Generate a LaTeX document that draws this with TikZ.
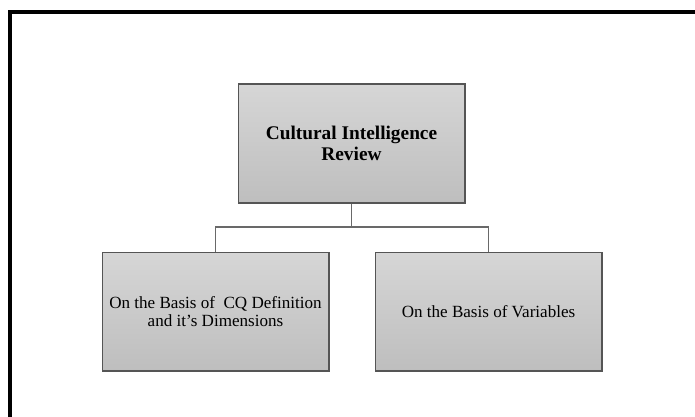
\documentclass[tikz,border=0pt]{standalone}
\usepackage{fontspec}
\setmainfont{Liberation Serif}
\usetikzlibrary{positioning}
\definecolor{boxtop}{RGB}{214,214,214}
\definecolor{boxbot}{RGB}{190,190,190}
\definecolor{boxline}{RGB}{85,85,85}
\definecolor{linkgray}{RGB}{105,105,105}
\tikzset{%
	box/.style = {name = #1, draw = boxline, line width = 1pt, top color = boxtop, bottom color = boxbot, minimum width = 170pt, minimum height = 89pt, align = center, inner sep = 2pt, font = \fontsize{12.8}{13.6}\selectfont},
	head/.style = {font = \fontsize{14.5}{15.5}\selectfont\bfseries},
	link/.style = {draw = linkgray, line width = 0.8pt},
	frame/.style = {line width = 3pt}
}
\begin{document}
\begin{tikzpicture}[x = 0.75pt, y = -0.75pt]
			\clip (0,0) rectangle (695,417);
			\draw [frame] (10,440) -- (10,12) -- (720,12);
			\node [box = {review}, head] at (351.5,143.5) {Cultural Intelligence\\ Review};
			\node [box = {definition}] at (215.5,311.5) {On the Basis of\ \ CQ Definition\\ and it's Dimensions};
			\node [box = {variables}] at (488.5,311.5) {On the Basis of Variables};
			\coordinate (split) at (351.5,227);
			\draw [link] (review) -- (split);
			\draw [link] (split) -| (definition);
			\draw [link] (split) -| (variables);
			\end{tikzpicture}
\end{document}
